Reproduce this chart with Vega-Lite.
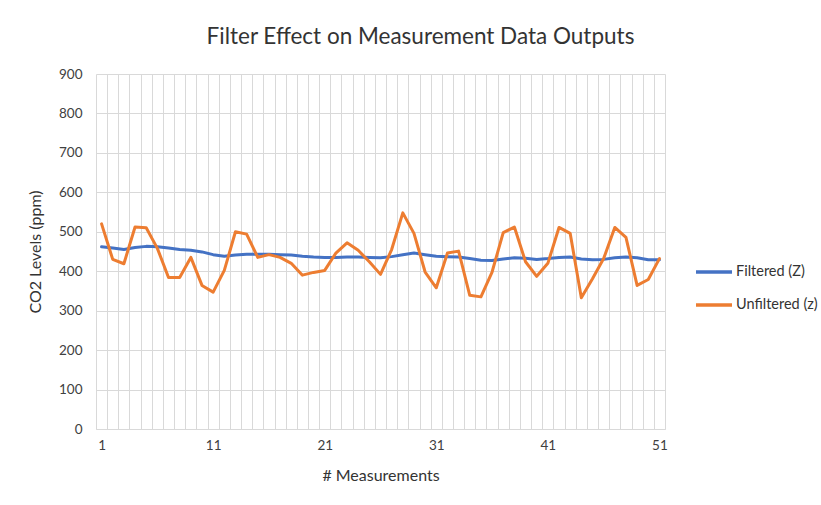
{
  "$schema": "https://vega.github.io/schema/vega-lite/v6.json",
  "autosize": {"type": "none"},
  "width": 569,
  "height": 355,
  "padding": {"left": 96, "top": 74, "right": 156, "bottom": 76},
  "background": "white",
  "config": {"view": {"stroke": null}, "font": "Lato"},
  "title": {
    "text": "Filter Effect on Measurement Data Outputs",
    "font": "Lato",
    "fontSize": 22.5,
    "fontWeight": "normal",
    "color": "#333333",
    "anchor": "middle",
    "frame": "group",
    "dx": 40,
    "offset": 19
  },
  "data": {
    "values": [
      {"n":1,"s":"Filtered (Z)","v":462},{"n":2,"s":"Filtered (Z)","v":459},{"n":3,"s":"Filtered (Z)","v":455},{"n":4,"s":"Filtered (Z)","v":460},{"n":5,"s":"Filtered (Z)","v":463},
      {"n":6,"s":"Filtered (Z)","v":462},{"n":7,"s":"Filtered (Z)","v":459},{"n":8,"s":"Filtered (Z)","v":455},{"n":9,"s":"Filtered (Z)","v":453},{"n":10,"s":"Filtered (Z)","v":449},
      {"n":11,"s":"Filtered (Z)","v":442},{"n":12,"s":"Filtered (Z)","v":438},{"n":13,"s":"Filtered (Z)","v":441},{"n":14,"s":"Filtered (Z)","v":443},{"n":15,"s":"Filtered (Z)","v":443},
      {"n":16,"s":"Filtered (Z)","v":443},{"n":17,"s":"Filtered (Z)","v":442},{"n":18,"s":"Filtered (Z)","v":441},{"n":19,"s":"Filtered (Z)","v":438},{"n":20,"s":"Filtered (Z)","v":436},
      {"n":21,"s":"Filtered (Z)","v":435},{"n":22,"s":"Filtered (Z)","v":435},{"n":23,"s":"Filtered (Z)","v":436},{"n":24,"s":"Filtered (Z)","v":436},{"n":25,"s":"Filtered (Z)","v":435},
      {"n":26,"s":"Filtered (Z)","v":434},{"n":27,"s":"Filtered (Z)","v":437},{"n":28,"s":"Filtered (Z)","v":442},{"n":29,"s":"Filtered (Z)","v":446},{"n":30,"s":"Filtered (Z)","v":442},
      {"n":31,"s":"Filtered (Z)","v":438},{"n":32,"s":"Filtered (Z)","v":437},{"n":33,"s":"Filtered (Z)","v":436},{"n":34,"s":"Filtered (Z)","v":432},{"n":35,"s":"Filtered (Z)","v":428},
      {"n":36,"s":"Filtered (Z)","v":427},{"n":37,"s":"Filtered (Z)","v":431},{"n":38,"s":"Filtered (Z)","v":434},{"n":39,"s":"Filtered (Z)","v":433},{"n":40,"s":"Filtered (Z)","v":430},
      {"n":41,"s":"Filtered (Z)","v":432},{"n":42,"s":"Filtered (Z)","v":435},{"n":43,"s":"Filtered (Z)","v":436},{"n":44,"s":"Filtered (Z)","v":431},{"n":45,"s":"Filtered (Z)","v":429},
      {"n":46,"s":"Filtered (Z)","v":430},{"n":47,"s":"Filtered (Z)","v":434},{"n":48,"s":"Filtered (Z)","v":436},{"n":49,"s":"Filtered (Z)","v":434},{"n":50,"s":"Filtered (Z)","v":429},
      {"n":51,"s":"Filtered (Z)","v":429},
      {"n":1,"s":"Unfiltered (z)","v":520},{"n":2,"s":"Unfiltered (z)","v":430},{"n":3,"s":"Unfiltered (z)","v":419},{"n":4,"s":"Unfiltered (z)","v":512},{"n":5,"s":"Unfiltered (z)","v":510},
      {"n":6,"s":"Unfiltered (z)","v":458},{"n":7,"s":"Unfiltered (z)","v":384},{"n":8,"s":"Unfiltered (z)","v":384},{"n":9,"s":"Unfiltered (z)","v":435},{"n":10,"s":"Unfiltered (z)","v":364},
      {"n":11,"s":"Unfiltered (z)","v":347},{"n":12,"s":"Unfiltered (z)","v":402},{"n":13,"s":"Unfiltered (z)","v":500},{"n":14,"s":"Unfiltered (z)","v":494},{"n":15,"s":"Unfiltered (z)","v":435},
      {"n":16,"s":"Unfiltered (z)","v":442},{"n":17,"s":"Unfiltered (z)","v":435},{"n":18,"s":"Unfiltered (z)","v":420},{"n":19,"s":"Unfiltered (z)","v":390},{"n":20,"s":"Unfiltered (z)","v":397},
      {"n":21,"s":"Unfiltered (z)","v":402},{"n":22,"s":"Unfiltered (z)","v":446},{"n":23,"s":"Unfiltered (z)","v":472},{"n":24,"s":"Unfiltered (z)","v":453},{"n":25,"s":"Unfiltered (z)","v":424},
      {"n":26,"s":"Unfiltered (z)","v":392},{"n":27,"s":"Unfiltered (z)","v":455},{"n":28,"s":"Unfiltered (z)","v":548},{"n":29,"s":"Unfiltered (z)","v":496},{"n":30,"s":"Unfiltered (z)","v":398},
      {"n":31,"s":"Unfiltered (z)","v":358},{"n":32,"s":"Unfiltered (z)","v":446},{"n":33,"s":"Unfiltered (z)","v":451},{"n":34,"s":"Unfiltered (z)","v":339},{"n":35,"s":"Unfiltered (z)","v":335},
      {"n":36,"s":"Unfiltered (z)","v":398},{"n":37,"s":"Unfiltered (z)","v":498},{"n":38,"s":"Unfiltered (z)","v":512},{"n":39,"s":"Unfiltered (z)","v":424},{"n":40,"s":"Unfiltered (z)","v":387},
      {"n":41,"s":"Unfiltered (z)","v":420},{"n":42,"s":"Unfiltered (z)","v":511},{"n":43,"s":"Unfiltered (z)","v":496},{"n":44,"s":"Unfiltered (z)","v":333},{"n":45,"s":"Unfiltered (z)","v":381},
      {"n":46,"s":"Unfiltered (z)","v":432},{"n":47,"s":"Unfiltered (z)","v":511},{"n":48,"s":"Unfiltered (z)","v":486},{"n":49,"s":"Unfiltered (z)","v":364},{"n":50,"s":"Unfiltered (z)","v":379},
      {"n":51,"s":"Unfiltered (z)","v":432}
    ]
  },
  "mark": {"type": "line", "strokeWidth": 3, "strokeJoin": "round", "strokeCap": "round"},
  "encoding": {
    "x": {
      "field": "n",
      "type": "quantitative",
      "scale": {"domain": [0.5, 51.5], "nice": false, "zero": false},
      "axis": {
        "values": [0.5,1.5,2.5,3.5,4.5,5.5,6.5,7.5,8.5,9.5,10.5,11.5,12.5,13.5,14.5,15.5,16.5,17.5,18.5,19.5,20.5,21.5,22.5,23.5,24.5,25.5,26.5,27.5,28.5,29.5,30.5,31.5,32.5,33.5,34.5,35.5,36.5,37.5,38.5,39.5,40.5,41.5,42.5,43.5,44.5,45.5,46.5,47.5,48.5,49.5,50.5,51.5],
        "labelExpr": "(datum.value - 0.5) % 10 == 0 ? format(datum.value + 0.5, 'd') : ''",
        "labelOffset": 5.58,
        "labelOverlap": false,
        "labelFlush": false,
        "labelBound": false,
        "labelFont": "Lato",
        "labelFontSize": 13.5,
        "labelColor": "#404040",
        "labelPadding": 9,
        "ticks": false,
        "grid": true,
        "gridColor": "#d9d9d9",
        "gridWidth": 1,
        "domain": true,
        "domainColor": "#d9d9d9",
        "title": "# Measurements",
        "titleFont": "Lato",
        "titleFontSize": 16,
        "titleFontWeight": "normal",
        "titleColor": "#333333",
        "titlePadding": 16
      }
    },
    "y": {
      "field": "v",
      "type": "quantitative",
      "scale": {"domain": [0, 900], "nice": false},
      "axis": {
        "values": [0,100,200,300,400,500,600,700,800,900],
        "labelFont": "Lato",
        "labelFontSize": 13.5,
        "labelColor": "#404040",
        "labelPadding": 14,
        "ticks": false,
        "domain": false,
        "grid": true,
        "gridColor": "#d9d9d9",
        "gridWidth": 1,
        "title": "CO2 Levels (ppm)",
        "titleFont": "Lato",
        "titleFontSize": 16,
        "titleFontWeight": "normal",
        "titleColor": "#333333",
        "titlePadding": 15
      }
    },
    "color": {
      "field": "s",
      "type": "nominal",
      "scale": {"domain": ["Filtered (Z)", "Unfiltered (z)"], "range": ["#4472C4", "#ED7D31"]},
      "legend": {
        "title": null,
        "orient": "none",
        "legendX": 598,
        "legendY": 178,
        "symbolType": "stroke",
        "symbolSize": 1296,
        "symbolStrokeWidth": 3.5,
        "rowPadding": 6,
        "labelFont": "Lato",
        "labelFontSize": 14.5,
        "labelColor": "#333333",
        "labelOffset": 2
      }
    }
  }
}
